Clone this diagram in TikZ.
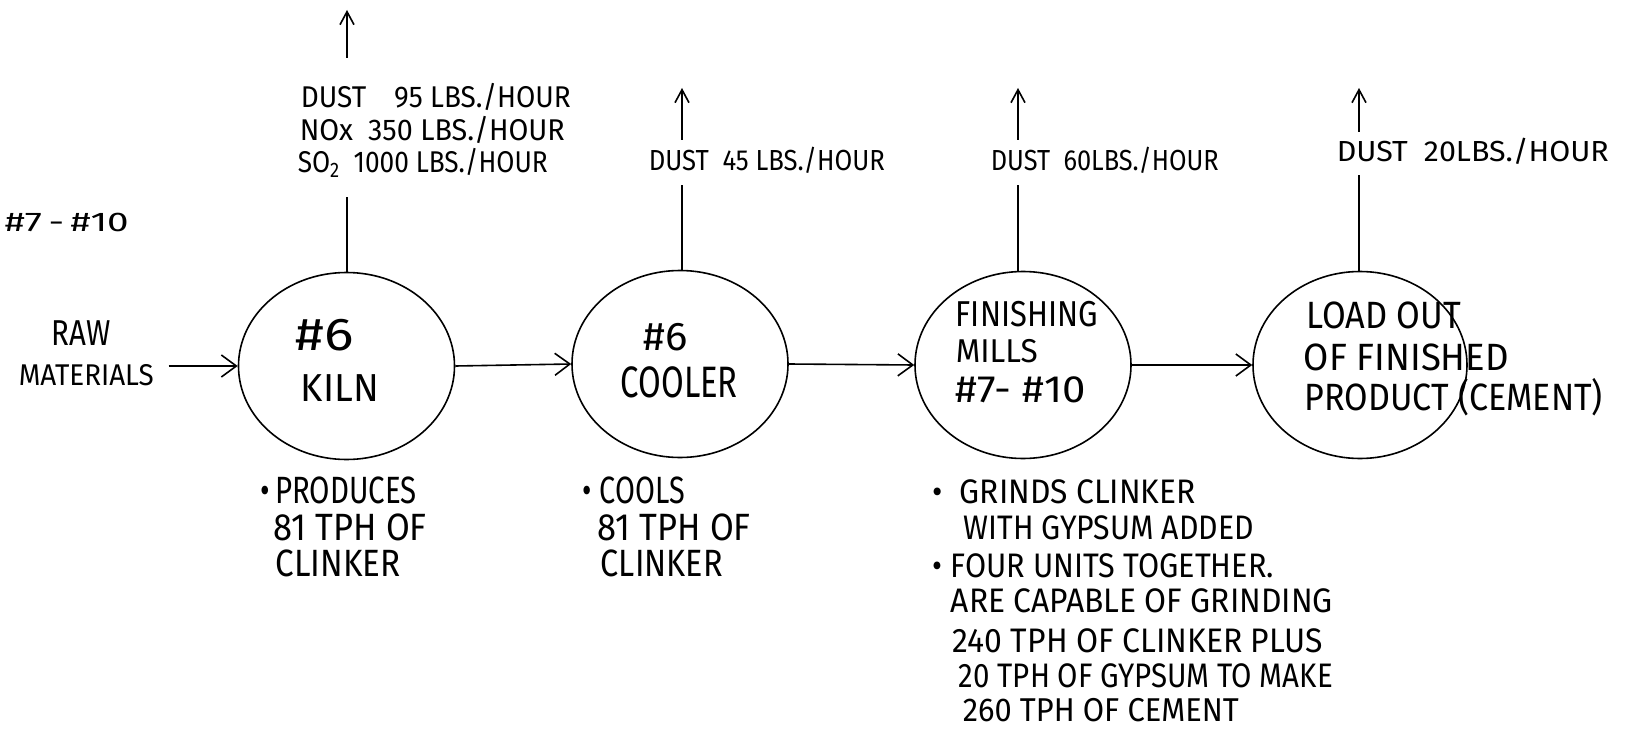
\documentclass[tikz,border=0pt]{standalone}
\usepackage{graphicx}
\usepackage{fontspec}
\setmainfont{Fira Sans}
\usetikzlibrary{shapes.geometric,arrows.meta}
\newcommand\hw[2]{\resizebox{#1pt}{\height}{#2}}
\newcommand\fs[1]{\fontsize{#1}{#1}\selectfont}
\begin{document}
\begin{tikzpicture}[x=1pt,y=-1pt,line width=1.6pt,
  unit/.style={draw, ellipse, minimum width=216pt, minimum height=187pt, inner sep=0pt},
  txt/.style={anchor=west, inner sep=0pt},
  flow/.style={-{Straight Barb[length=15pt,width=22pt]}},
  up/.style={-{Straight Barb[length=13pt,width=14pt]}}]
\useasboundingbox (0,0) rectangle (1636,733);
\fill[white] (0,0) rectangle (1636,733);

% process units
\node[unit] (kiln) at (346.5,366) {};
\node[unit] (cooler) at (680,364) {};
\node[unit] (mills) at (1023,365) {};
\node[unit, minimum width=214pt] (load) at (1360,365) {};

% raw materials
\node[txt, font=\fs{36}] (rawA) at (51,333) {\hw{59}{RAW}};
\node[txt, font=\fs{30}] (rawB) at (18,375) {\hw{135}{MATERIALS}};
\draw[flow, shorten <=14pt] (rawB.east |- kiln.west) -- (kiln.west);

% flow connectors
\draw[flow] (kiln.east) -- (cooler.west);
\draw[flow] (cooler.east) -- (mills.west);
\draw[flow] (mills.east) -- (load.west);

% stacks
\coordinate (kilnS) at (347,197);
\coordinate (kilnB) at (347,58);
\coordinate (kilnT) at (347,10);
\coordinate (coolS) at (682,185);
\coordinate (coolB) at (682,140);
\coordinate (coolT) at (682,88);
\coordinate (millS) at (1018,185);
\coordinate (millB) at (1018,140);
\coordinate (millT) at (1018,88);
\coordinate (loadS) at (1359,175);
\coordinate (loadB) at (1359,132);
\coordinate (loadT) at (1359,88);
\draw (kilnS |- kiln.north) -- (kilnS);
\draw[up] (kilnB) -- (kilnT);
\draw (coolS |- cooler.north) -- (coolS);
\draw[up] (coolB) -- (coolT);
\draw (millS |- mills.north) -- (millS);
\draw[up] (millB) -- (millT);
\draw (loadS |- load.north) -- (loadS);
\draw[up] (loadB) -- (loadT);

% emissions
\node[txt, font=\fs{30}] (e1) at (300,97) {\hw{270}{DUST\quad 95 LBS./HOUR}};
\node[txt, font=\fs{30}] (e2) at (299,130) {\hw{265}{NOx\ \ 350 LBS./HOUR}};
\node[txt, font=\fs{30}] (e3) at (297,163) {\hw{250}{SO\textsubscript{2}\ \ 1000 LBS./HOUR}};
\node[txt, font=\fs{29}] (e4) at (648,160) {\hw{236}{DUST\ \ 45 LBS./HOUR}};
\node[txt, font=\fs{29}] (e5) at (990,160) {\hw{228}{DUST\ \ 60LBS./HOUR}};
\node[txt, font=\fs{29}] (e6) at (1336,151) {\hw{272}{DUST\ \ 20LBS./HOUR}};

% corner label
\node[txt, font=\fs{27}] (corner) at (4,222) {\hw{124}{\#7\,-\,\#10}};

% unit labels
\node[txt, font=\fs{46}] (k1) at (295,335) {\hw{58}{\#6}};
\node[txt, font=\fs{39}] (k2) at (300,388) {\hw{78}{KILN}};
\node[txt, font=\fs{40}] (c1) at (643,337) {\hw{44}{\#6}};
\node[txt, font=\fs{44}] (c2) at (620,382) {\hw{117}{COOLER}};
\node[txt, font=\fs{36}] (m1) at (955,314) {\hw{142}{FINISHING}};
\node[txt, font=\fs{33}] (m2) at (955,351) {\hw{82}{MILLS}};
\node[txt, font=\fs{38}] (m3) at (955,390) {\hw{130}{\#7-\ \#10}};
\node[txt, font=\fs{38}] (l1) at (1306,315) {\hw{154}{LOAD OUT}};
\node[txt, font=\fs{38}] (l2) at (1303,357) {\hw{205}{OF FINISHED}};
\node[txt, font=\fs{38}] (l3) at (1304,397) {\hw{298}{PRODUCT (CEMENT)}};

% notes
\node[txt, font=\fs{38}] (n1) at (260,490) {\hw{156}{•\,PRODUCES}};
\node[txt, font=\fs{38}] (n2) at (273,527) {\hw{153}{81 TPH OF}};
\node[txt, font=\fs{38}] (n3) at (275,563) {\hw{125}{CLINKER}};
\node[txt, font=\fs{38}] (n4) at (582,490) {\hw{102}{•\ COOLS}};
\node[txt, font=\fs{38}] (n5) at (597,527) {\hw{153}{81 TPH OF}};
\node[txt, font=\fs{38}] (n6) at (600,563) {\hw{122}{CLINKER}};
\node[txt, font=\fs{34}] (g1) at (932,492) {\hw{263}{•\ \ GRINDS CLINKER}};
\node[txt, font=\fs{34}] (g2) at (963,528) {\hw{290}{WITH GYPSUM ADDED}};
\node[txt, font=\fs{34}] (g3) at (932,566) {\hw{341}{•\ FOUR UNITS TOGETHER.}};
\node[txt, font=\fs{34}] (g4) at (950,601) {\hw{382}{ARE CAPABLE OF GRINDING}};
\node[txt, font=\fs{34}] (g5) at (952,641) {\hw{370}{240 TPH OF CLINKER PLUS}};
\node[txt, font=\fs{34}] (g6) at (958,676) {\hw{374}{20 TPH OF GYPSUM TO MAKE}};
\node[txt, font=\fs{33}] (g7) at (962,710) {\hw{276}{260 TPH OF CEMENT}};
\end{tikzpicture}
\end{document}
